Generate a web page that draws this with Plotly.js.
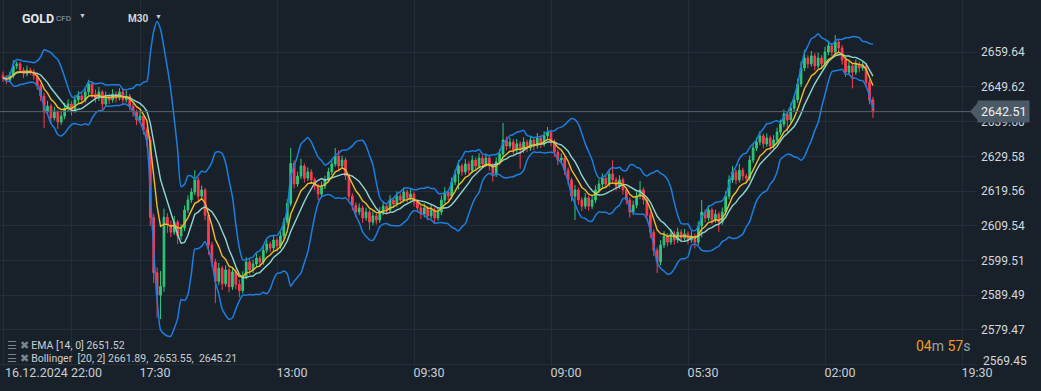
<!DOCTYPE html>
<html>
<head>
<meta charset="utf-8">
<script src="https://cdn.plot.ly/plotly-3.0.1.min.js"></script>
<style>
html,body{margin:0;padding:0;background:#18212a;}
#chart{width:1041px;height:391px;}
</style>
</head>
<body>
<div id="chart"></div>
<script>
// ---- data (GOLD CFD, M30) ----
const opens = [
2653.0,2652.2,2651.6,2652.8,2655.7,2656.3,2654.5,2653.4,2654.5,2654.0,
2652.8,2649.9,2647.0,2642.4,2644.1,2640.7,2642.4,2639.5,2641.2,2643.5,
2644.7,2643.0,2645.9,2647.0,2645.9,2648.2,2650.5,2647.6,2646.4,2648.2,
2644.7,2647.0,2645.9,2647.6,2646.4,2648.2,2645.9,2647.0,2644.1,2642.4,
2640.1,2641.2,2637.2,2634.3,2612.0,2596.0,2589.5,2592.0,2612.0,2609.8,
2607.7,2610.6,2606.6,2608.9,2614.1,2617.0,2619.3,2622.8,2618.1,2619.9,
2612.6,2604.0,2599.1,2593.5,2597.3,2592.8,2596.8,2591.9,2596.2,2592.6,
2590.8,2595.0,2599.1,2596.8,2598.5,2600.2,2599.1,2602.5,2604.3,2603.1,
2605.4,2603.7,2606.6,2610.6,2616.0,2627.5,2621.6,2623.9,2626.8,2623.3,
2625.1,2622.8,2621.0,2618.7,2621.0,2622.8,2625.1,2627.4,2629.7,2626.8,
2628.5,2623.9,2618.1,2615.5,2613.5,2614.7,2611.8,2613.5,2610.6,2612.4,
2611.2,2613.5,2615.2,2614.1,2617.0,2615.8,2618.1,2617.0,2619.3,2617.6,
2618.7,2616.4,2614.7,2612.9,2614.7,2612.4,2614.1,2611.8,2613.5,2617.0,
2619.3,2618.1,2622.2,2624.5,2626.8,2625.1,2627.4,2625.6,2628.5,2626.8,
2629.1,2627.4,2629.1,2626.8,2624.5,2628.0,2630.3,2634.3,2632.6,2633.7,
2631.4,2633.2,2631.4,2633.7,2632.0,2634.3,2632.6,2634.9,2633.2,2635.5,
2636.6,2633.7,2630.8,2628.5,2629.1,2625.6,2622.8,2618.1,2619.9,2617.0,
2615.2,2617.6,2615.2,2617.0,2619.9,2621.6,2623.3,2621.6,2624.5,2622.8,
2621.0,2622.8,2619.9,2617.0,2613.5,2615.5,2618.1,2619.9,2617.0,2612.6,
2607.7,2602.5,2599.1,2604.0,2606.6,2604.8,2607.2,2605.4,2607.7,2606.0,
2607.2,2605.4,2606.6,2604.8,2609.5,2613.5,2611.8,2614.1,2611.2,2612.9,
2610.6,2613.5,2618.1,2622.8,2625.1,2622.8,2625.6,2623.9,2623.3,2628.5,
2632.0,2633.7,2635.5,2633.2,2634.9,2632.6,2634.3,2636.6,2638.9,2641.8,
2640.1,2643.5,2645.9,2650.5,2655.1,2658.0,2656.3,2658.6,2655.7,2658.0,
2656.3,2659.7,2661.5,2659.7,2662.6,2660.9,2657.4,2653.9,2655.7,2653.9,
2656.3,2655.1,2655.7,2651.0,2645.9
];
const highs = [
2654.1,2653.0,2654.0,2657.4,2657.0,2656.9,2655.3,2655.8,2655.2,2654.8,
2653.5,2650.6,2647.9,2645.6,2644.8,2643.9,2643.0,2642.5,2645.0,2646.1,
2645.5,2647.3,2648.4,2647.8,2649.5,2651.7,2651.1,2648.9,2649.6,2648.8,
2648.3,2647.7,2649.0,2648.4,2649.3,2648.9,2648.5,2647.6,2645.2,2643.1,
2642.8,2641.9,2638.1,2635.4,2613.0,2597.5,2596.5,2614.5,2613.2,2611.0,
2612.3,2611.2,2610.0,2615.4,2618.3,2620.4,2625.6,2623.6,2621.2,2620.5,
2613.4,2604.9,2600.0,2598.8,2598.0,2598.1,2597.5,2597.6,2597.0,2594.0,
2596.4,2600.5,2599.9,2599.8,2601.6,2600.9,2603.8,2605.6,2605.0,2606.7,
2606.1,2607.9,2611.8,2617.2,2632.0,2628.4,2625.2,2628.9,2627.5,2626.4,
2625.9,2623.5,2621.7,2622.3,2624.0,2626.3,2628.6,2632.0,2631.4,2629.8,
2629.2,2624.6,2618.9,2616.3,2616.0,2615.4,2614.8,2614.2,2613.7,2613.1,
2614.9,2616.5,2616.0,2618.4,2617.8,2619.5,2618.9,2620.6,2620.0,2620.1,
2619.4,2617.2,2615.4,2616.0,2615.3,2615.5,2614.8,2614.9,2618.3,2620.7,
2620.0,2623.5,2625.8,2628.5,2627.5,2628.8,2628.2,2629.9,2629.3,2630.5,
2629.9,2630.4,2629.8,2627.6,2629.3,2631.6,2639.2,2635.3,2635.0,2634.5,
2634.6,2634.0,2635.1,2634.4,2635.6,2635.0,2636.3,2635.7,2636.9,2638.1,
2637.3,2634.5,2631.6,2630.4,2629.8,2626.4,2623.5,2621.3,2620.6,2617.8,
2619.0,2618.3,2618.4,2621.2,2622.9,2624.6,2624.0,2625.8,2628.5,2623.6,
2624.1,2623.5,2620.6,2617.7,2616.8,2619.4,2622.5,2620.6,2617.7,2613.4,
2608.5,2603.3,2605.4,2608.0,2607.4,2608.6,2608.0,2609.0,2608.5,2608.6,
2607.9,2608.0,2607.3,2610.8,2617.0,2614.3,2615.5,2614.8,2614.2,2613.6,
2614.8,2619.5,2624.1,2626.8,2625.8,2627.4,2626.3,2624.6,2629.8,2633.3,
2635.0,2636.9,2636.2,2636.2,2635.6,2635.7,2637.9,2640.2,2643.1,2642.6,
2644.9,2647.3,2652.0,2657.0,2660.3,2658.8,2660.0,2659.4,2659.5,2658.8,
2661.2,2663.0,2662.3,2664.6,2663.4,2661.7,2658.2,2657.0,2656.5,2657.6,
2657.0,2657.1,2656.5,2651.8,2646.8
];
const lows = [
2651.0,2650.4,2650.9,2652.1,2654.8,2653.6,2652.2,2652.7,2653.1,2651.7,
2648.8,2645.5,2637.8,2641.6,2638.9,2639.9,2637.5,2638.7,2640.3,2642.6,
2641.4,2642.2,2645.0,2644.6,2645.1,2647.3,2646.5,2645.1,2645.6,2643.0,
2643.9,2644.7,2645.1,2645.2,2645.7,2644.6,2645.1,2642.8,2641.0,2638.6,
2639.2,2635.9,2632.4,2609.5,2593.0,2583.0,2582.6,2590.5,2607.5,2606.3,
2606.9,2604.2,2605.6,2608.0,2613.2,2616.1,2618.4,2616.5,2617.2,2611.1,
2601.2,2597.6,2587.2,2592.4,2591.0,2592.0,2590.3,2591.0,2591.2,2588.9,
2590.0,2594.1,2595.4,2595.9,2597.6,2597.7,2598.3,2601.6,2601.9,2602.3,
2602.2,2602.9,2605.7,2609.8,2615.2,2620.3,2620.8,2623.0,2622.0,2622.5,
2621.6,2619.8,2617.0,2617.9,2620.1,2622.0,2624.2,2626.6,2625.6,2626.0,
2622.8,2616.8,2614.0,2612.1,2612.6,2610.4,2611.0,2608.3,2609.7,2609.9,
2610.4,2612.6,2612.8,2613.3,2614.6,2615.0,2615.8,2616.2,2616.3,2616.8,
2615.1,2613.4,2611.5,2612.0,2611.1,2611.6,2610.0,2611.0,2612.6,2616.1,
2616.9,2617.2,2621.3,2620.0,2624.0,2624.3,2624.4,2624.8,2625.6,2626.0,
2626.2,2626.6,2625.5,2622.3,2623.6,2627.1,2629.4,2631.4,2631.8,2630.1,
2630.6,2626.0,2630.6,2630.8,2631.2,2631.3,2631.8,2632.0,2632.4,2634.6,
2632.5,2629.5,2627.1,2627.6,2624.2,2621.4,2616.6,2611.2,2615.6,2613.8,
2614.4,2613.9,2614.4,2616.1,2619.0,2620.7,2620.3,2620.8,2621.6,2619.7,
2620.2,2618.6,2615.7,2611.9,2612.6,2614.6,2617.2,2615.7,2611.1,2606.0,
2600.8,2595.9,2598.2,2603.1,2603.5,2604.0,2604.1,2604.6,2604.8,2605.2,
2604.1,2604.6,2603.0,2604.0,2606.2,2610.5,2611.0,2609.9,2610.4,2607.8,
2609.8,2612.6,2617.2,2621.9,2621.5,2622.0,2622.6,2621.9,2622.5,2627.6,
2631.1,2632.8,2631.9,2632.4,2631.3,2631.8,2633.4,2635.7,2638.0,2636.6,
2639.2,2642.6,2645.0,2649.6,2654.2,2655.0,2655.5,2654.4,2654.9,2655.0,
2655.5,2658.8,2658.4,2658.9,2659.6,2656.1,2652.5,2653.1,2649.2,2653.1,
2653.8,2654.3,2649.7,2644.6,2640.7
];
const closes = [
2652.2,2651.6,2652.8,2655.7,2656.3,2654.5,2653.4,2654.5,2654.0,2652.8,
2649.9,2647.0,2642.4,2644.1,2640.7,2642.4,2639.5,2641.2,2643.5,2644.7,
2643.0,2645.9,2647.0,2645.9,2648.2,2650.5,2647.6,2646.4,2648.2,2644.7,
2647.0,2645.9,2647.6,2646.4,2648.2,2645.9,2647.0,2644.1,2642.4,2640.1,
2641.2,2637.2,2634.3,2612.0,2596.0,2589.5,2592.0,2612.0,2609.8,2607.7,
2610.6,2606.6,2608.9,2614.1,2617.0,2619.3,2622.8,2618.1,2619.9,2612.6,
2604.0,2599.1,2593.5,2597.3,2592.8,2596.8,2591.9,2596.2,2592.6,2590.8,
2595.0,2599.1,2596.8,2598.5,2600.2,2599.1,2602.5,2604.3,2603.1,2605.4,
2603.7,2606.6,2610.6,2616.0,2627.5,2621.6,2623.9,2626.8,2623.3,2625.1,
2622.8,2621.0,2618.7,2621.0,2622.8,2625.1,2627.4,2629.7,2626.8,2628.5,
2623.9,2618.1,2615.5,2613.5,2614.7,2611.8,2613.5,2610.6,2612.4,2611.2,
2613.5,2615.2,2614.1,2617.0,2615.8,2618.1,2617.0,2619.3,2617.6,2618.7,
2616.4,2614.7,2612.9,2614.7,2612.4,2614.1,2611.8,2613.5,2617.0,2619.3,
2618.1,2622.2,2624.5,2626.8,2625.1,2627.4,2625.6,2628.5,2626.8,2629.1,
2627.4,2629.1,2626.8,2624.5,2628.0,2630.3,2634.3,2632.6,2633.7,2631.4,
2633.2,2631.4,2633.7,2632.0,2634.3,2632.6,2634.9,2633.2,2635.5,2636.6,
2633.7,2630.8,2628.5,2629.1,2625.6,2622.8,2618.1,2619.9,2617.0,2615.2,
2617.6,2615.2,2617.0,2619.9,2621.6,2623.3,2621.6,2624.5,2622.8,2621.0,
2622.8,2619.9,2617.0,2613.5,2615.5,2618.1,2619.9,2617.0,2612.6,2607.7,
2602.5,2599.1,2604.0,2606.6,2604.8,2607.2,2605.4,2607.7,2606.0,2607.2,
2605.4,2606.6,2604.8,2609.5,2613.5,2611.8,2614.1,2611.2,2612.9,2610.6,
2613.5,2618.1,2622.8,2625.1,2622.8,2625.6,2623.9,2623.3,2628.5,2632.0,
2633.7,2635.5,2633.2,2634.9,2632.6,2634.3,2636.6,2638.9,2641.8,2640.1,
2643.5,2645.9,2650.5,2655.1,2658.0,2656.3,2658.6,2655.7,2658.0,2656.3,
2659.7,2661.5,2659.7,2662.6,2660.9,2657.4,2653.9,2655.7,2653.9,2656.3,
2655.1,2655.7,2651.0,2645.9,2642.51
];
const xTickBars   = [0, 20, 40, 80, 120, 160, 200, 240, 280];
const xTickLabels = ['', '22:00', '17:30', '13:00', '09:30', '09:00', '05:30', '02:00', '19:30'];
const startDateLabel = '16.12.2024';
const yTickValues = [2569.45, 2579.47, 2589.49, 2599.51, 2609.54, 2619.56, 2629.58, 2639.60, 2649.62, 2659.64];
const yTickLabels = ['', '2579.47', '2589.49', '2599.51', '2609.54', '2619.56', '2629.58', '2639.60', '2649.62', '2659.64'];
const bottomTickLabel = '2569.45';
const lastPrice = 2642.51;
const emaPeriod = 14, bbPeriod = 20, bbMult = 2;
const m30BarsPerCandle = 2;
const emaLegend = 'EMA [14, 0] 2651.52';
const bbLegend = 'Bollinger\u00a0\u00a0[20, 2] 2661.89,\u00a0\u00a02653.55,\u00a0\u00a02645.21';

// ---- indicators derived from the closes (periods expressed in drawn candles) ----
const bars = closes.map((_, i) => i);
const emaN = emaPeriod / m30BarsPerCandle, bbN = bbPeriod / m30BarsPerCandle;
const ema = [];
const k = 2 / (emaN + 1);
closes.forEach((c, i) => { ema.push(i === 0 ? c : ema[i - 1] + k * (c - ema[i - 1])); });
const bbMid = [], bbUp = [], bbLo = [];
closes.forEach((c, i) => {
  const w = closes.slice(Math.max(0, i - bbN + 1), i + 1);
  const m = w.reduce((a, b) => a + b, 0) / w.length;
  const sd = Math.sqrt(w.reduce((a, b) => a + (b - m) * (b - m), 0) / w.length);
  bbMid.push(m); bbUp.push(m + bbMult * sd); bbLo.push(m - bbMult * sd);
});

const BG = '#18212a', GRID = '#232e38', TXT = '#c9ced3';
const blue = '#1a7fe0';
const traces = [
  {type: 'candlestick', x: bars, open: opens, high: highs, low: lows, close: closes,
   increasing: {line: {color: '#2ccb7b', width: 1}, fillcolor: '#2ccb7b'},
   decreasing: {line: {color: '#ff3b52', width: 1}, fillcolor: '#ff3b52'},
   whiskerwidth: 0, hoverinfo: 'skip', showlegend: false},
  {type: 'scatter', mode: 'lines', x: bars, y: bbUp, line: {color: blue, width: 1.5, shape: 'spline', smoothing: 0.6}, hoverinfo: 'skip', showlegend: false},
  {type: 'scatter', mode: 'lines', x: bars, y: bbLo, line: {color: blue, width: 1.5, shape: 'spline', smoothing: 0.6}, hoverinfo: 'skip', showlegend: false},
  {type: 'scatter', mode: 'lines', x: bars, y: bbMid, line: {color: '#8fd8d2', width: 1.4}, hoverinfo: 'skip', showlegend: false},
  {type: 'scatter', mode: 'lines', x: bars, y: ema, line: {color: '#efbf22', width: 1.4}, hoverinfo: 'skip', showlegend: false}
];

const W = 977, H = 366;
const layout = {
  width: 1041, height: 391,
  margin: {l: 0, r: 1041 - W, t: 0, b: 391 - H, pad: 0},
  paper_bgcolor: BG, plot_bgcolor: BG,
  font: {family: 'Roboto, "Noto Sans", sans-serif', color: TXT},
  showlegend: false,
  xaxis: {range: [-3 / 3.425, -3 / 3.425 + W / 3.425], tickmode: 'array', tickvals: xTickBars, ticktext: xTickLabels,
          showgrid: true, gridcolor: GRID, gridwidth: 1, zeroline: false, showline: false, ticks: '',
          ticklabelshift: 15, ticklabelstandoff: -3, tickfont: {size: 12.5, color: TXT}, rangeslider: {visible: false}, fixedrange: true},
  yaxis: {side: 'right', range: [2569.05, 2674.74], tickmode: 'array', tickvals: yTickValues, ticktext: yTickLabels,
          showgrid: true, gridcolor: GRID, gridwidth: 1, zeroline: false, showline: false, ticks: '',
          ticklabelstandoff: 3, tickfont: {size: 12, color: '#d4d8dc'}, fixedrange: true},
  shapes: [
    {type: 'line', xref: 'paper', x0: 0, x1: 1, yref: 'y', y0: lastPrice, y1: lastPrice, line: {color: '#56636e', width: 1}},
    {type: 'path', xref: 'paper', yref: 'y', xsizemode: 'pixel', ysizemode: 'pixel', xanchor: 1, yanchor: lastPrice,
     path: 'M-7,0 L1,9 L1,-9 Z', fillcolor: '#4b5a66', line: {width: 0}}
  ],
  annotations: [
    {xref: 'paper', yref: 'y', x: 1, y: lastPrice, xanchor: 'left', yanchor: 'middle', showarrow: false,
     text: String(lastPrice.toFixed(2)), bgcolor: '#4b5a66', borderpad: 3, font: {size: 12.5, color: '#eef1f3'}},
    {xref: 'paper', yref: 'paper', x: 981 / W, y: 1 - 360.5 / H, xanchor: 'left', yanchor: 'middle', showarrow: false,
     text: bottomTickLabel, font: {size: 12, color: '#d4d8dc'}},
    {xref: 'paper', yref: 'paper', x: 20 / W, y: 1 - 18 / H, xanchor: 'left', yanchor: 'middle', showarrow: false,
     text: '<b>GOLD</b>', font: {size: 12.5, color: '#e6e9ec'}},
    {xref: 'paper', yref: 'paper', x: 54 / W, y: 1 - 19 / H, xanchor: 'left', yanchor: 'middle', showarrow: false,
     text: 'CFD', font: {size: 8, color: '#9aa3ab'}},
    {xref: 'paper', yref: 'paper', x: 82 / W, y: 1 - 16 / H, xanchor: 'center', yanchor: 'middle', showarrow: false,
     text: '▼', font: {size: 7, color: '#c8cdd2'}},
    {xref: 'paper', yref: 'paper', x: 126 / W, y: 1 - 19 / H, xanchor: 'left', yanchor: 'middle', showarrow: false,
     text: '<b>M30</b>', font: {size: 10, color: '#d2d6da'}},
    {xref: 'paper', yref: 'paper', x: 158 / W, y: 1 - 17 / H, xanchor: 'center', yanchor: 'middle', showarrow: false,
     text: '▼', font: {size: 7, color: '#c8cdd2'}},
    {xref: 'paper', yref: 'paper', x: 5 / W, y: 1 - 345 / H, xanchor: 'left', yanchor: 'middle', showarrow: false,
     text: '<span style="color:#7b858e">☰ ✖</span> ' + emaLegend, font: {size: 10.5, color: TXT}},
    {xref: 'paper', yref: 'paper', x: 5 / W, y: 1 - 358 / H, xanchor: 'left', yanchor: 'middle', showarrow: false,
     text: '<span style="color:#7b858e">☰ ✖</span> ' + bbLegend, font: {size: 10.5, color: TXT}},
    {xref: 'paper', yref: 'paper', x: 972 / W, y: 1 - 346 / H, xanchor: 'right', yanchor: 'middle', showarrow: false,
     text: '<span style="color:#f39a17">04</span>m <span style="color:#f39a17">57</span>s', font: {size: 14, color: '#9aa3ab'}},
    {xref: 'x', yref: 'paper', x: 0, y: -7 / H, xanchor: 'left', yanchor: 'middle', showarrow: false,
     text: startDateLabel, font: {size: 12.5, color: TXT}}
  ]
};
Plotly.newPlot('chart', traces, layout, {staticPlot: true, displayModeBar: false});
</script>
</body>
</html>
